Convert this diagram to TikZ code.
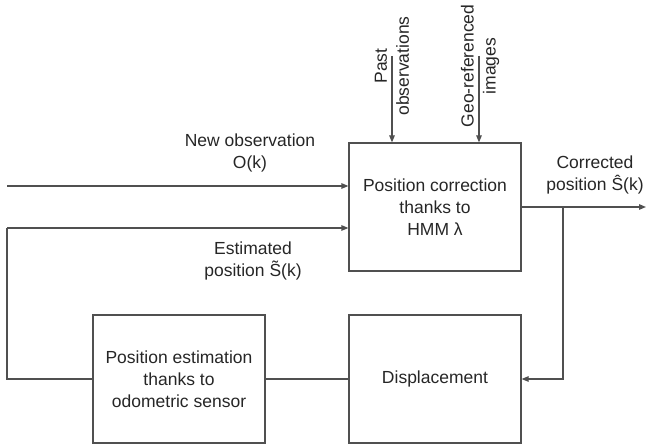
\documentclass[tikz,border=0pt]{standalone}
\usepackage{fontspec}
\setmainfont{Liberation Sans}
\usetikzlibrary{arrows.meta,calc}
\definecolor{linec}{HTML}{505050}
\definecolor{textc}{HTML}{262626}
\newcommand{\tildeS}{\ooalign{S\cr\hidewidth\raisebox{0.19em}{˜}\hidewidth\cr}}
\begin{document}
\begin{tikzpicture}[x=1pt,y=1pt,
  every node/.style={font=\fontsize{17.5}{22}\selectfont, text=textc},
  blockbox/.style={draw=linec, line width=1.2pt, minimum width=172pt, minimum height=128pt, align=center, inner sep=0pt},
  conn/.style={draw=linec, line width=1.2pt},
  arr/.style={conn, -{Triangle[length=7pt,width=5.5pt]}},
  lbl/.style={align=center, inner sep=0pt}
]
\useasboundingbox (0,0) rectangle (646,445);
\node[blockbox] (hmm) at (435,238) {Position correction\\thanks to\\HMM λ};
\node[blockbox] (est) at (179,66) {Position estimation\\thanks to\\odometric sensor};
\node[blockbox] (disp) at (435,66) {Displacement};

\coordinate (nin) at (7,259);
\coordinate (nleft) at (7,217);
\coordinate (nout) at (646,238);
\coordinate (nbr) at (563,238);
\coordinate (npast) at (392,389);
\coordinate (ngeo) at (479,389);

\draw[arr] (nin) -- (nin -| hmm.west);
\draw[conn] (est.west) -| (nleft);
\draw[arr] (nleft) -- (nleft -| hmm.west);
\draw[conn] (est.east) -- (disp.west);
\draw[arr] (hmm.east) -- (nout);
\draw[arr] (nbr) |- (disp.east);
\draw[arr] (npast) -- (npast |- hmm.north);
\draw[arr] (ngeo) -- (ngeo |- hmm.north);

\node[lbl] (lnew) at (250,292) {New observation\\O(k)};
\node[lbl] (lest) at (253,184) {Estimated\\position \tildeS(k)};
\node[lbl] (lcor) at (595,270.5) {Corrected\\position \^{S}(k)};
\node[lbl, rotate=90] (lpast) at (392,379) {Past\\observations};
\node[lbl, rotate=90] (lgeo) at (480,379) {Geo-referenced\\images};
\end{tikzpicture}
\end{document}
